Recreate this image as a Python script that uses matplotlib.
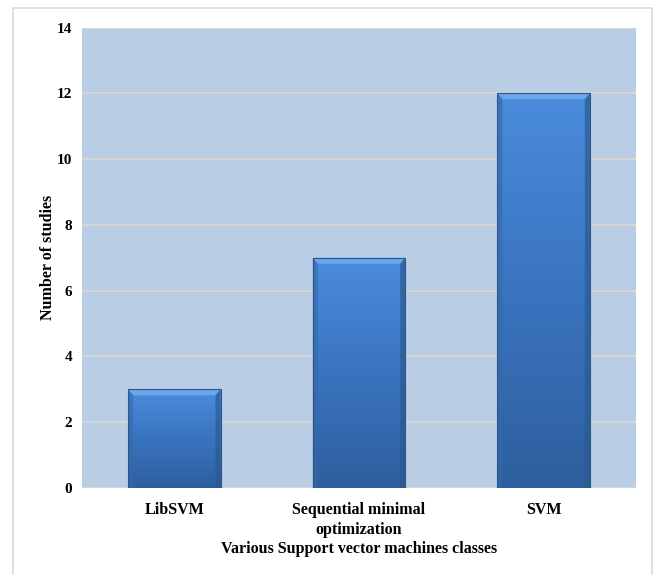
import matplotlib.pyplot as plt
import numpy as np
from matplotlib.patches import Rectangle, Polygon
from matplotlib.colors import LinearSegmentedColormap

categories = ["LibSVM", "Sequential minimal\noptimization", "SVM"]
studies = [3, 7, 12]
y_ticks = [0, 2, 4, 6, 8, 10, 12, 14]

W, H = 656, 575
DPI = 100

plt.rcParams["font.family"] = ["Liberation Serif", "DejaVu Serif"]
plt.rcParams["font.weight"] = "bold"

fig = plt.figure(figsize=(W / DPI, H / DPI), dpi=DPI)
fig.patch.set_facecolor("white")

# light frame round the whole chart
fig.patches.append(Rectangle((13 / W, -0.05), (652 - 13) / W, 1.05 - 8 / H,
                             transform=fig.transFigure, fill=False,
                             edgecolor="#d9d9d9", linewidth=1.2))

ax = fig.add_axes([82 / W, 1 - 488 / H, (636 - 82) / W, (488 - 27.5) / H])
ax.set_facecolor("#b9cde5")
ax.set_xlim(-0.5, len(categories) - 0.5)
ax.set_ylim(0, 14)
for s in ax.spines.values():
    s.set_visible(False)
ax.set_yticks(y_ticks)
ax.yaxis.grid(True, color="#d9d6d0", linewidth=1.3)
ax.set_axisbelow(True)
ax.tick_params(length=0, labelsize=11)
ax.tick_params(axis="y", pad=7)
ax.tick_params(axis="x", pad=10)
ax.set_xticks(range(len(categories)))
ax.set_xticklabels(categories, fontsize=11.5, fontweight="bold", linespacing=1.34)
for t in ax.get_yticklabels():
    t.set_fontweight("bold")

ax.set_ylabel("Number of studies", fontsize=11.5, fontweight="bold", labelpad=1)
ax.set_xlabel("Various Support vector machines classes", fontsize=11.5,
              fontweight="bold", labelpad=2.5)

# data units per pixel, used for the bevel edges
ax_w = (636 - 82)
ax_h = (488 - 27.5)
px_x = 3.0 / ax_w
px_y = 14.0 / ax_h

cmap = LinearSegmentedColormap.from_list("bar", ["#2e5f9e", "#3a74bf", "#4a8cdc"])
grad = np.linspace(0, 1, 256).reshape(-1, 1)
width = 0.5

for i, v in enumerate(studies):
    x0, x1 = i - width / 2, i + width / 2
    im = ax.imshow(grad, extent=(x0, x1, 0, v), origin="lower", cmap=cmap,
                   aspect="auto", zorder=2)
    clip = Rectangle((x0, 0), width, v, transform=ax.transData)
    im.set_clip_path(clip)
    bx = 5 * px_x
    by = 6 * px_y
    # top bevel
    ax.add_patch(Polygon([(x0, v), (x1, v), (x1 - bx, v - by), (x0 + bx, v - by)],
                         closed=True, facecolor="#6aa6ec", edgecolor="none", zorder=3))
    # side bevels
    ax.add_patch(Polygon([(x0, 0), (x0, v), (x0 + bx, v - by), (x0 + bx, 0)],
                         closed=True, facecolor="#3468aa", edgecolor="none",
                         alpha=0.6, zorder=3))
    ax.add_patch(Polygon([(x1, 0), (x1, v), (x1 - bx, v - by), (x1 - bx, 0)],
                         closed=True, facecolor="#2b5a93", edgecolor="none",
                         alpha=0.7, zorder=3))
    ax.add_patch(Rectangle((x0, 0), width, v, fill=False, edgecolor="#2c5588",
                           linewidth=0.8, zorder=4))

fig.savefig("out.png", dpi=DPI)
